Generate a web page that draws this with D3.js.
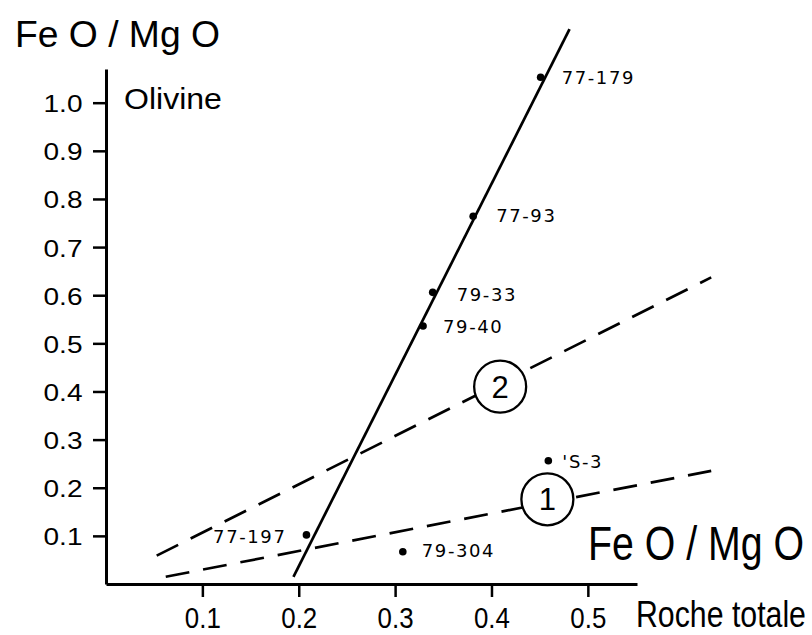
<!DOCTYPE html>
<html><head><meta charset="utf-8">
<script src="https://cdn.jsdelivr.net/npm/d3@7"></script>
<style>html,body{margin:0;padding:0;background:#fff}svg{display:block}</style>
</head><body>
<script>
// ---- data ----
const sampleNames = ["77-179", "77-93", "79-33", "79-40", "'S-3", "79-304", "77-197"];
const rockFeMg    = [0.451, 0.381, 0.339, 0.329, 0.459, 0.308, 0.208];
const olivineFeMg = [1.053, 0.764, 0.606, 0.536, 0.256, 0.067, 0.102];
const xTicks = [0.1, 0.2, 0.3, 0.4, 0.5];
const yTicks = [0.1, 0.2, 0.3, 0.4, 0.5, 0.6, 0.7, 0.8, 0.9, 1.0];
// reference lines: [x1, y1, x2, y2]
const solidLine   = [0.1945, 0.015, 0.481, 1.153];
const dashedLine2 = [0.0526, 0.059, 0.628, 0.637];
const dashedLine1 = [0.062, 0.015, 0.628, 0.235];
const circleLabels = ["2", "1"];
const circleAt = [[0.409, 0.410], [0.458, 0.176]];

const W = 812, H = 635;
const FONT = "Liberation Sans, Arial, sans-serif";
const svg = d3.select("body").append("svg").attr("width", W).attr("height", H);
const x = d3.scaleLinear().domain([0, 0.551]).range([106, 637]);
const y = d3.scaleLinear().domain([0, 1.07]).range([584, 69]);

// fit a text horizontally to a target width by scaling (keeps it real text)
function fitText(sel, tx, ty, width, anchor) {
  const w = sel.node().getComputedTextLength();
  const s = width / w;
  let left = tx;
  if (anchor === "end") left = tx - width;
  if (anchor === "middle") left = tx - width / 2;
  sel.attr("x", 0).attr("y", 0).attr("text-anchor", "start")
     .attr("transform", `translate(${left},${ty}) scale(${s},1)`);
}

// axes
const gx = svg.append("g").attr("transform", `translate(0,${y(0)})`)
  .call(d3.axisBottom(x).tickValues(xTicks).tickFormat(d3.format(".1f")).tickSize(13).tickSizeOuter(0));
const gy = svg.append("g").attr("transform", `translate(${x(0)},0)`)
  .call(d3.axisLeft(y).tickValues(yTicks).tickFormat(d3.format(".1f")).tickSize(13).tickSizeOuter(0));
[gx, gy].forEach(g => {
  g.select(".domain").attr("stroke", "#000").attr("stroke-width", 3);
  g.selectAll(".tick line").attr("stroke", "#000").attr("stroke-width", 2.5);
});
gx.selectAll(".tick text").each(function () {
  const t = d3.select(this).attr("font-family", FONT).attr("font-size", 29).attr("fill", "#000").attr("dy", null);
  fitText(t, 0, 44, 36, "middle");
});
gy.selectAll(".tick text").each(function () {
  const t = d3.select(this).attr("font-family", FONT).attr("font-size", 24).attr("fill", "#000").attr("dy", null);
  fitText(t, -23.5, 9, 39, "end");
});

// lines
function drawLine(L, dashed) {
  svg.append("line")
    .attr("x1", x(L[0])).attr("y1", y(L[1])).attr("x2", x(L[2])).attr("y2", y(L[3]))
    .attr("stroke", "#000").attr("stroke-width", 2.7)
    .attr("stroke-dasharray", dashed ? "24,14" : null);
}
drawLine(dashedLine2, true);
drawLine(dashedLine1, true);
drawLine(solidLine, false);

// circled numbers
circleAt.forEach((c, i) => {
  svg.append("circle").attr("cx", x(c[0])).attr("cy", y(c[1])).attr("r", 26)
    .attr("fill", "#fff").attr("stroke", "#000").attr("stroke-width", 2.3);
  svg.append("text").attr("x", x(c[0])).attr("y", y(c[1]) + 11)
    .attr("text-anchor", "middle").attr("font-family", FONT)
    .attr("font-size", 31).text(circleLabels[i]);
});

// points
const labelOffset = {
  "77-179": [21, 7, "start"], "77-93": [23, 6, "start"], "79-33": [24, 9, "start"],
  "79-40": [20, 7, "start"], "'S-3": [14, 7, "start"], "79-304": [19, 5, "start"],
  "77-197": [-20, 8, "end"]
};
sampleNames.forEach((n, i) => {
  const px = x(rockFeMg[i]), py = y(olivineFeMg[i]);
  svg.append("circle").attr("cx", px).attr("cy", py).attr("r", 3.8).attr("fill", "#000");
  const o = labelOffset[n];
  svg.append("text").attr("x", px + o[0]).attr("y", py + o[1]).attr("text-anchor", o[2])
    .attr("font-family", "DejaVu Sans, sans-serif").attr("font-size", 18)
    .attr("letter-spacing", 1.6).text(n);
});

// titles
function label(txt, tx, ty, size, len) {
  const t = svg.append("text").attr("font-family", FONT).attr("font-size", size).text(txt);
  fitText(t, tx, ty, len, "start");
}
label("Fe O / Mg O", 15, 47, 37, 205);
label("Olivine", 124, 109, 29, 98);
label("Fe O / Mg O", 588, 560, 48, 216);
label("Roche totale", 636, 627, 37, 170);
</script>
</body></html>
